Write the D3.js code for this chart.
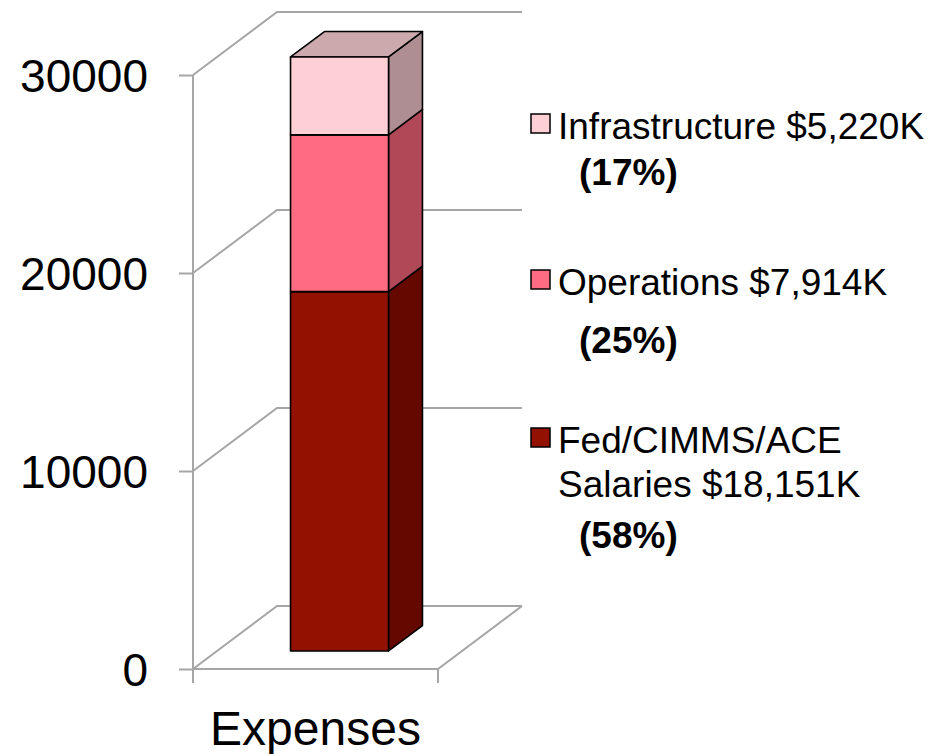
<!DOCTYPE html>
<html>
<head>
<meta charset="utf-8">
<script src="https://cdn.jsdelivr.net/npm/d3@7"></script>
<style>
  body { margin: 0; background: #fff; }
  text { font-family: "Liberation Sans", Arial, sans-serif; fill: #000; }
</style>
</head>
<body>
<div id="chart"></div>
<script>
var categories = ['Expenses'];
var series = ['Fed/CIMMS/ACE Salaries', 'Operations', 'Infrastructure'];
var values = [18151, 7914, 5220];
var percents = ['58%', '25%', '17%'];
var yTicks = [0, 10000, 20000, 30000];
var yMax = 30000;

var front_colors = ['#921100', '#ff6b80', '#ffcfd6'];
var side_colors = ['#640800', '#b04858', '#ae8e92'];
var top_colors = ['#8a1a10', '#c85a6a', '#cba9ad'];

var chart_width = 948;
var chart_height = 754;

// profundidade do grafico 3D
var depth_dx = 84;
var depth_dy = -63;
var bar_d0 = 0.286;
var bar_d1 = 0.69;

var svg = d3.select('#chart')
    .append('svg')
    .attr('width', chart_width)
    .attr('height', chart_height);

var x_scale = d3.scaleBand()
    .domain(categories)
    .range([193, 438])
    .paddingInner(0.6)
    .paddingOuter(0.3);

var y_scale = d3.scaleLinear()
    .domain([0, yMax])
    .range([669, 75]);

var grid = svg.append('g')
    .attr('fill', 'none')
    .attr('stroke', '#a6a6a6')
    .attr('stroke-width', 2);

var x0 = x_scale.range()[0];
var x1 = x_scale.range()[1];

// linhas de grade (parede lateral + fundo)
yTicks.forEach(function (t) {
    var y = y_scale(t);
    grid.append('polyline')
        .attr('points', [
            [x0, y],
            [x0 + depth_dx, y + depth_dy],
            [x1 + depth_dx, y + depth_dy]
        ].join(' '));
});

// piso
grid.append('polyline')
    .attr('points', [
        [x0, y_scale(0)],
        [x1, y_scale(0)],
        [x1 + depth_dx, y_scale(0) + depth_dy]
    ].join(' '));

// eixo y
grid.append('line')
    .attr('x1', x0).attr('x2', x0)
    .attr('y1', y_scale(yMax)).attr('y2', y_scale(0) + 14);
grid.append('line')
    .attr('x1', x1).attr('x2', x1)
    .attr('y1', y_scale(0)).attr('y2', y_scale(0) + 14);

var yAxis = svg.append('g')
    .attr('transform', 'translate(' + x0 + ',0)')
    .call(d3.axisLeft(y_scale).tickValues(yTicks).tickSize(14).tickPadding(31).tickFormat(d3.format('d')));
yAxis.select('.domain').remove();
yAxis.selectAll('.tick line').attr('stroke', '#a6a6a6').attr('stroke-width', 2);
yAxis.selectAll('.tick text')
    .style('font-family', '"Liberation Sans", Arial, sans-serif')
    .style('font-size', '46px')
    .attr('fill', '#000')
    .attr('dy', '0.36em');

// rotulo categoria
svg.append('text')
    .attr('x', x_scale('Expenses') + x_scale.bandwidth() / 2)
    .attr('y', 745)
    .attr('text-anchor', 'middle')
    .style('font-size', '48px')
    .text('Expenses');

// barras empilhadas
var stacked = [];
var acc = 0;
values.forEach(function (v, i) {
    stacked.push({ y0: Math.min(acc, yMax), y1: Math.min(acc + v, yMax), i: i });
    acc += v;
});

var bars = svg.append('g')
    .attr('stroke', '#000')
    .attr('stroke-width', 1.6)
    .attr('stroke-linejoin', 'round');

var bx = x_scale('Expenses');
var bw = x_scale.bandwidth();
var fdx = bar_d0 * depth_dx, fdy = bar_d0 * depth_dy;
var bdx = bar_d1 * depth_dx, bdy = bar_d1 * depth_dy;

stacked.forEach(function (d, k) {
    var yb = y_scale(d.y0), yt = y_scale(d.y1);
    var L = bx + fdx, R = bx + bw + fdx;
    var Rb = bx + bw + bdx, Lb = bx + bdx;
    // lateral
    bars.append('polygon')
        .attr('points', [[R, yt + fdy], [Rb, yt + bdy], [Rb, yb + bdy], [R, yb + fdy]].join(' '))
        .attr('fill', side_colors[d.i]);
    // topo
    if (k === stacked.length - 1) {
        bars.append('polygon')
            .attr('points', [[L, yt + fdy], [Lb, yt + bdy], [Rb, yt + bdy], [R, yt + fdy]].join(' '))
            .attr('fill', top_colors[d.i]);
    }
    // frente
    bars.append('rect')
        .attr('x', L)
        .attr('y', yt + fdy)
        .attr('width', bw)
        .attr('height', yb - yt)
        .attr('fill', front_colors[d.i]);
});

// legenda
var legend_items = [
    { i: 2, lines: ['Infrastructure $5,220K'], y: 139, py: 185 },
    { i: 1, lines: ['Operations $7,914K'], y: 295, py: 353 },
    { i: 0, lines: ['Fed/CIMMS/ACE', 'Salaries $18,151K'], y: 453, py: 548 }
];

var legend = svg.append('g');
legend_items.forEach(function (it) {
    legend.append('rect')
        .attr('x', 531)
        .attr('y', it.y - 25)
        .attr('width', 19)
        .attr('height', 19)
        .attr('fill', front_colors[it.i])
        .attr('stroke', '#000')
        .attr('stroke-width', 1.5);
    it.lines.forEach(function (ln, j) {
        legend.append('text')
            .attr('x', 558)
            .attr('y', it.y + j * 44)
            .style('font-size', '37px')
            .text(ln);
    });
    legend.append('text')
        .attr('x', 579)
        .attr('y', it.py)
        .style('font-size', '37px')
        .style('font-weight', 'bold')
        .text('(' + percents[it.i] + ')');
});
</script>
</body>
</html>
